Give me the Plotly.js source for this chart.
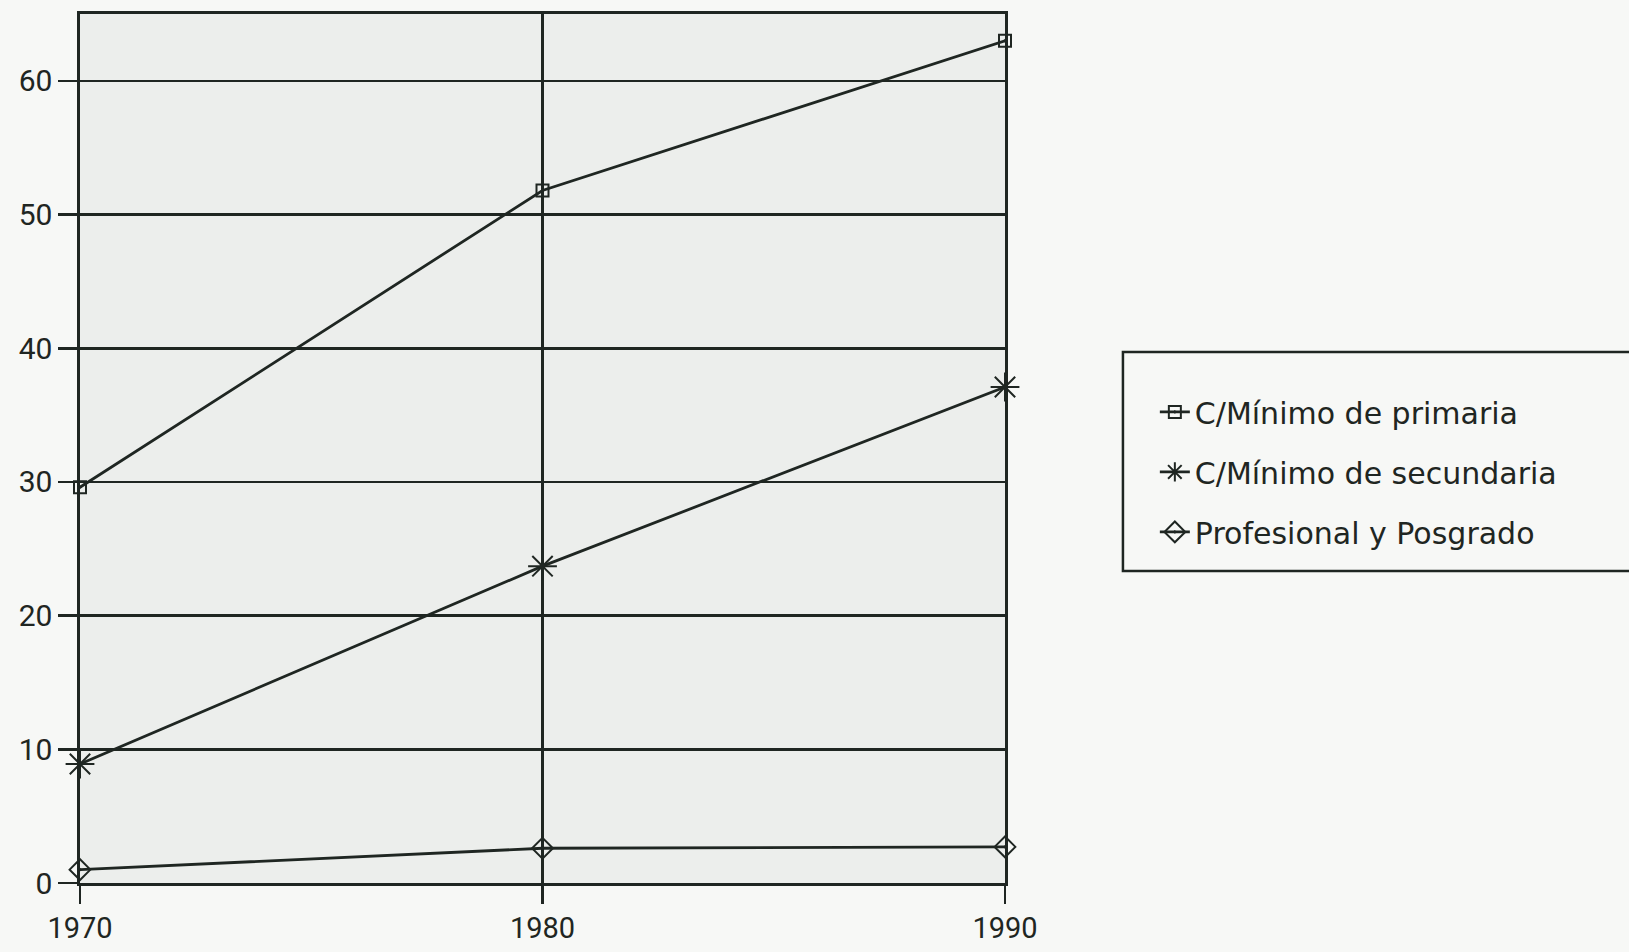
<!DOCTYPE html>
<html>
<head>
<meta charset="utf-8">
<script src="https://cdn.plot.ly/plotly-3.0.1.min.js"></script>
<style>
  html, body { margin: 0; padding: 0; background: #f7f8f6; }
  #chart { width: 1629px; height: 952px; }
</style>
</head>
<body>
<div id="chart"></div>
<script>
// ---- data ----
const years = [1970, 1980, 1990];
const primaria = [29.6, 51.8, 63.0];
const secundaria = [8.9, 23.7, 37.1];
const profesional = [1.0, 2.6, 2.7];
const seriesNames = ['C/Mínimo de primaria', 'C/Mínimo de secundaria', 'Profesional y Posgrado'];
const yTicks = [0, 10, 20, 30, 40, 50, 60];
const xTicks = [1970, 1980, 1990];

const ink = '#1f2622';
const FONT = 'DejaVu Sans, sans-serif';
const TICKFONT = 'Roboto, DejaVu Sans, sans-serif';

function series(y, name, symbol, size, group) {
  return {
    x: years, y: y, name: name, type: 'scatter', mode: 'lines+markers',
    legendgroup: group, cliponaxis: false,
    line: { color: ink, width: 2.8 },
    marker: { symbol: symbol, size: size, color: ink, line: { color: ink, width: 2 } }
  };
}

const data = [
  series(primaria, seriesNames[0], 'square-open-dot', 12, 'a'),
  series(secundaria, seriesNames[1], 'asterisk-open', 24, 'b'),
  series(profesional, seriesNames[2], 'diamond-open-dot', 16, 'c')
];

const layout = {
  width: 1629, height: 952,
  margin: { l: 80, r: 624, t: 14, b: 69 },
  paper_bgcolor: '#f7f8f6',
  plot_bgcolor: '#eceeec',
  font: { family: FONT, size: 27, color: ink },
  showlegend: true,
  legend: {
    x: 1.162, y: 0.572, xanchor: 'left', yanchor: 'top',
    bgcolor: 'rgba(0,0,0,0)', borderwidth: 0,
    font: { family: FONT, size: 30, color: ink },
    tracegroupgap: 18
  },
  xaxis: {
    range: [1970, 1990], tickmode: 'array', tickvals: xTicks, ticktext: xTicks.map(String),
    showgrid: true, gridcolor: ink, gridwidth: 2.6,
    showline: true, linecolor: ink, linewidth: 2.6, mirror: true,
    ticks: 'outside', ticklen: 18, tickwidth: 2.6, tickcolor: ink,
    zeroline: false, fixedrange: true,
    tickfont: { family: TICKFONT, size: 29, color: ink }
  },
  yaxis: {
    range: [0, 65], tickmode: 'array', tickvals: yTicks, ticktext: yTicks.map(String),
    showgrid: true, gridcolor: ink, gridwidth: 2.6,
    showline: true, linecolor: ink, linewidth: 2.6, mirror: true,
    ticks: 'outside', ticklen: 19, tickwidth: 2.6, tickcolor: ink,
    zeroline: false, fixedrange: true,
    tickfont: { family: TICKFONT, size: 30, color: ink }
  },
  shapes: [{
    type: 'rect', xref: 'paper', yref: 'paper',
    x0: 1.1275, x1: 1.75, y0: 0.359, y1: 0.611,
    line: { color: ink, width: 2.5 }, fillcolor: 'rgba(0,0,0,0)', layer: 'above'
  }]
};

Plotly.newPlot('chart', data, layout, { displayModeBar: false, staticPlot: true });
</script>
</body>
</html>
